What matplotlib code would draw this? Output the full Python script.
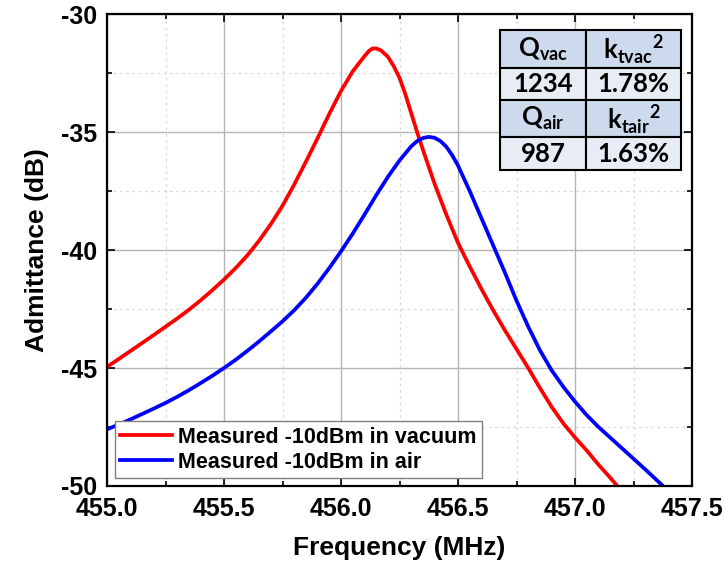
import matplotlib
matplotlib.use("Agg")
import matplotlib.pyplot as plt
from matplotlib.patches import Rectangle
from matplotlib.ticker import MultipleLocator, FormatStrFormatter

# Datos (MHz, dB)
freq_vac = [455.0, 455.05, 455.1, 455.15, 455.2, 455.25, 455.3, 455.35, 455.4, 455.45,
            455.5, 455.55, 455.6, 455.65, 455.7, 455.75, 455.8, 455.85, 455.9, 455.95,
            456.0, 456.05, 456.1, 456.12, 456.135, 456.15, 456.17, 456.2, 456.225, 456.25,
            456.275, 456.3, 456.325, 456.35, 456.4, 456.45, 456.5, 456.55, 456.6, 456.65,
            456.7, 456.75, 456.8, 456.85, 456.9, 456.95, 457.0, 457.05, 457.1, 457.15,
            457.18]
adm_vac = [-44.95, -44.62, -44.28, -43.94, -43.6, -43.25, -42.9, -42.53, -42.13, -41.7,
           -41.25, -40.76, -40.22, -39.6, -38.9, -38.12, -37.22, -36.25, -35.25, -34.22,
           -33.25, -32.42, -31.78, -31.55, -31.45, -31.45, -31.53, -31.8, -32.2, -32.7,
           -33.4, -34.2, -35.0, -35.75, -37.2, -38.5, -39.7, -40.7, -41.65, -42.55,
           -43.4, -44.2, -45.0, -45.85, -46.65, -47.35, -47.95, -48.5, -49.1, -49.65,
           -50.0]

freq_air = [455.0, 455.05, 455.1, 455.15, 455.2, 455.25, 455.3, 455.35, 455.4, 455.45,
            455.5, 455.55, 455.6, 455.65, 455.7, 455.75, 455.8, 455.85, 455.9, 455.95,
            456.0, 456.05, 456.1, 456.15, 456.2, 456.25, 456.3, 456.325, 456.35, 456.375,
            456.4, 456.425, 456.45, 456.475, 456.5, 456.55, 456.6, 456.65, 456.7, 456.75,
            456.8, 456.85, 456.9, 456.95, 457.0, 457.05, 457.1, 457.15, 457.2, 457.25,
            457.3, 457.37]
adm_air = [-47.6, -47.4, -47.18, -46.95, -46.72, -46.48, -46.22, -45.94, -45.64, -45.33,
           -45.0, -44.65, -44.27, -43.87, -43.45, -43.02, -42.55, -42.02, -41.42, -40.76,
           -40.05, -39.3, -38.5, -37.68, -36.9, -36.2, -35.6, -35.38, -35.25, -35.2,
           -35.24, -35.38, -35.62, -35.98, -36.42, -37.5, -38.65, -39.8, -40.95, -42.15,
           -43.25, -44.25, -45.1, -45.8, -46.43, -47.0, -47.5, -47.95, -48.4, -48.85,
           -49.3, -49.95]

series_labels = ["Measured -10dBm in vacuum", "Measured -10dBm in air"]

# Tabla de parámetros
tabla_titulos = [[r"$\mathbf{Q}_{\mathbf{vac}}$", r"$\mathbf{k}_{\mathbf{tvac}}{}^{\mathbf{2}}$"],
                 [r"$\mathbf{Q}_{\mathbf{air}}$", r"$\mathbf{k}_{\mathbf{tair}}{}^{\mathbf{2}}$"]]
tabla_valores = [["1234", "1.78%"],
                 ["987", "1.63%"]]

plt.rcParams['font.family'] = ['Liberation Sans', 'DejaVu Sans']
plt.rcParams['font.weight'] = 'bold'
plt.rcParams['mathtext.fontset'] = 'custom'
plt.rcParams['mathtext.bf'] = 'Lato:bold'
plt.rcParams['mathtext.rm'] = 'Lato'

fig = plt.figure(figsize=(7.25, 5.69), dpi=100)
ax = fig.add_axes([0.1476, 0.146, 0.807, 0.829])

ax.plot(freq_vac, adm_vac, color='red', lw=2.7, label=series_labels[0])
ax.plot(freq_air, adm_air, color='blue', lw=2.7, label=series_labels[1])

ax.set_xlim(455.0, 457.5)
ax.set_ylim(-50, -30)
ax.xaxis.set_major_locator(MultipleLocator(0.5))
ax.xaxis.set_minor_locator(MultipleLocator(0.25))
ax.yaxis.set_major_locator(MultipleLocator(5))
ax.yaxis.set_minor_locator(MultipleLocator(2.5))
ax.xaxis.set_major_formatter(FormatStrFormatter('%.1f'))
ax.yaxis.set_major_formatter(FormatStrFormatter('%d'))

ax.grid(which='major', color='#b4b4b4', lw=1.0, ls='-')
ax.grid(which='minor', color='#d8d8d8', lw=0.9, ls=(0, (2, 3)))
ax.set_axisbelow(True)

ax.tick_params(which='both', direction='in', top=True, right=True, width=1.2)
ax.tick_params(which='major', length=6, labelsize=18)
ax.tick_params(which='minor', length=3.5)
ax.tick_params(axis='x', which='major', pad=8)
ax.tick_params(axis='y', which='major', pad=7)
for s in ax.spines.values():
    s.set_linewidth(1.6)

ax.set_xlabel("Frequency (MHz)", fontsize=19, fontweight='bold', labelpad=11)
ax.set_ylabel("Admittance (dB)", fontsize=19, fontweight='bold', labelpad=9)

leg = ax.legend(loc='lower left', bbox_to_anchor=(0.0, 0.0), fontsize=15.5,
                frameon=True, fancybox=False, framealpha=1, edgecolor='#808080',
                handlelength=2.4, handletextpad=0.3, labelspacing=0.2,
                borderpad=0.25, borderaxespad=0.35)
leg.get_frame().set_linewidth(1.0)

# Dibujar la tabla en coordenadas de los ejes
col_x = [0.672, 0.819, 0.981]
fila_y = [0.966, 0.886, 0.818, 0.739, 0.669]
colores = ['#cdd9ec', '#e8edf5', '#cdd9ec', '#e8edf5']
filas = [tabla_titulos[0], tabla_valores[0], tabla_titulos[1], tabla_valores[1]]
for i, fila in enumerate(filas):
    y0, y1 = fila_y[i + 1], fila_y[i]
    for j, texto in enumerate(fila):
        x0, x1 = col_x[j], col_x[j + 1]
        ax.add_patch(Rectangle((x0, y0), x1 - x0, y1 - y0, transform=ax.transAxes,
                               facecolor=colores[i], edgecolor='black', lw=1.5,
                               zorder=5, clip_on=False))
        ax.text((x0 + x1) / 2, (y0 + y1) / 2, texto, transform=ax.transAxes,
                ha='center', va='center', fontsize=18.5, fontweight='bold',
                family='Lato', zorder=6)

fig.savefig("out.png", dpi=100)
